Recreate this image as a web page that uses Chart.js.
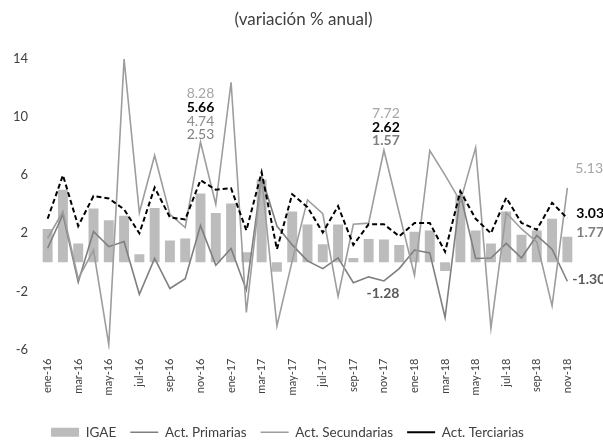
<!DOCTYPE html>
<html>
<head>
<meta charset="utf-8">
<script src="https://cdn.jsdelivr.net/npm/chart.js@4"></script>
<style>
  body { margin: 0; background: #fff; overflow: hidden; }
  canvas { display: block; }
</style>
</head>
<body>
<canvas id="grafico" width="603" height="444"></canvas>
<script>
// Meses (ene-16 a nov-18)
const meses = [
    'ene-16','feb-16','mar-16','abr-16','may-16','jun-16','jul-16','ago-16','sep-16','oct-16','nov-16','dic-16',
    'ene-17','feb-17','mar-17','abr-17','may-17','jun-17','jul-17','ago-17','sep-17','oct-17','nov-17','dic-17',
    'ene-18','feb-18','mar-18','abr-18','may-18','jun-18','jul-18','ago-18','sep-18','oct-18','nov-18'
];

// Variación % anual
const igae = [
    2.3, 5.0, 1.3, 3.7, 2.9, 3.2, 0.55, 3.75, 1.5, 1.65, 4.74, 3.4,
    4.05, 0.7, 5.7, -0.65, 3.5, 2.6, 1.25, 2.6, 0.3, 1.6, 1.57, 1.2,
    2.1, 2.2, -0.6, 4.6, 2.2, 1.3, 3.5, 1.9, 2.2, 3.0, 1.77
];
const primarias = [
    0.97, 3.3, -1.36, 2.13, 1.08, 1.43, -2.2, 0.27, -1.8, -1.13, 2.53, -0.2,
    0.95, -1.9, 5.9, 2.5, 1.2, 0.1, -0.43, 0.31, -1.4, -1.0, -1.28, -0.43,
    0.85, 0.65, -3.8, 4.7, 0.27, 0.3, 1.3, 0.3, 1.85, 0.9, -1.30
];
const secundarias = [
    1.66, 3.5, -1.13, 0.85, -5.67, 14.0, 3.41, 7.36, 3.3, 2.4, 8.28, 4.0,
    12.4, -3.45, 5.85, -4.38, 0.1, 4.3, 3.35, -2.35, 2.62, 2.7, 7.72, 3.4,
    -0.9, 7.7, 6.0, 4.2, 7.9, -4.55, 3.41, 2.3, 1.4, -3.0, 5.13
];
const terciarias = [
    3.0, 6.0, 2.5, 4.57, 4.4, 3.65, 2.0, 5.15, 3.1, 2.95, 5.66, 5.0,
    5.1, 2.2, 6.2, 0.9, 4.69, 3.8, 2.05, 3.87, 1.2, 2.62, 2.62, 1.8,
    2.71, 2.71, 0.73, 4.9, 3.0, 2.0, 4.45, 2.71, 2.25, 4.1, 3.03
];
const ticksY = [-6, -2, 2, 6, 10, 14];
const titulo = '(variación % anual)';

// Etiquetas de datos: serie, mes, desplazamiento y estilo
const etiquetas = [
    { serie: 2, mes: 10, ancla: 2, dx: 0, dy: -49, color: '#a6a6a6', negrita: false, alinear: 'center' },
    { serie: 3, mes: 10, ancla: 2, dx: 0, dy: -35, color: '#000000', negrita: true, alinear: 'center' },
    { serie: 0, mes: 10, ancla: 2, dx: 0, dy: -21, color: '#8c8c8c', negrita: false, alinear: 'center' },
    { serie: 1, mes: 10, ancla: 2, dx: 0, dy: -8, color: '#7f7f7f', negrita: false, alinear: 'center' },
    { serie: 2, mes: 22, ancla: 2, dx: 2, dy: -37, color: '#a6a6a6', negrita: false, alinear: 'center' },
    { serie: 3, mes: 22, ancla: 2, dx: 2, dy: -23, color: '#000000', negrita: true, alinear: 'center' },
    { serie: 0, mes: 22, ancla: 2, dx: 2, dy: -10, color: '#7f7f7f', negrita: true, alinear: 'center' },
    { serie: 1, mes: 22, ancla: 1, dx: -1, dy: 13, color: '#595959', negrita: true, alinear: 'center' },
    { serie: 2, mes: 34, ancla: 2, dx: 8, dy: -19, color: '#a6a6a6', negrita: false, alinear: 'left' },
    { serie: 3, mes: 34, ancla: 3, dx: 9, dy: -5, color: '#000000', negrita: true, alinear: 'left' },
    { serie: 0, mes: 34, ancla: 0, dx: 9, dy: -4, color: '#7f7f7f', negrita: true, alinear: 'left' },
    { serie: 1, mes: 34, ancla: 1, dx: 5, dy: -2, color: '#595959', negrita: true, alinear: 'left' }
];

const pluginEtiquetas = {
    id: 'etiquetas',
    afterDatasetsDraw(chart) {
        const ctx = chart.ctx;
        const x = chart.scales.x;
        const y = chart.scales.y;
        ctx.save();
        ctx.textBaseline = 'middle';
        etiquetas.forEach(e => {
            const valor = chart.data.datasets[e.serie].data[e.mes];
            const valorAncla = chart.data.datasets[e.ancla].data[e.mes];
            ctx.font = (e.negrita ? 'bold ' : '') + '14px Lato';
            ctx.fillStyle = e.color;
            ctx.textAlign = e.alinear;
            ctx.fillText(valor.toFixed(2), x.getPixelForValue(e.mes) + e.dx, y.getPixelForValue(valorAncla) + e.dy);
        });
        // titulo centrado en el lienzo
        ctx.font = '17px Lato';
        ctx.fillStyle = '#404040';
        ctx.textAlign = 'center';
        ctx.fillText(titulo, chart.width / 2 + 2, 20);
        ctx.restore();
    }
};

const ctx = document.getElementById('grafico').getContext('2d');
new Chart(ctx, {
    type: 'bar',
    data: {
        labels: meses,
        datasets: [
            {
                label: 'IGAE',
                data: igae,
                backgroundColor: '#bcbcbc',
                borderWidth: 0,
                categoryPercentage: 0.65,
                barPercentage: 1,
                pointStyle: 'rect',
                order: 4
            },
            {
                type: 'line',
                label: 'Act. Primarias',
                data: primarias,
                borderColor: '#7f7f7f',
                backgroundColor: '#7f7f7f',
                borderWidth: 1.6,
                pointRadius: 0,
                pointStyle: 'line',
                tension: 0,
                order: 3
            },
            {
                type: 'line',
                label: 'Act. Secundarias',
                data: secundarias,
                borderColor: '#9d9d9d',
                backgroundColor: '#9d9d9d',
                borderWidth: 1.6,
                pointRadius: 0,
                pointStyle: 'line',
                tension: 0,
                order: 2
            },
            {
                type: 'line',
                label: 'Act. Terciarias',
                data: terciarias,
                borderColor: '#000000',
                backgroundColor: '#000000',
                borderWidth: 2,
                borderDash: [5, 3],
                pointRadius: 0,
                pointStyle: 'line',
                tension: 0,
                order: 1
            }
        ]
    },
    options: {
        responsive: false,
        animation: false,
        events: [],
        layout: { padding: { left: 0, right: 28, top: 59, bottom: -5 } },
        plugins: {
            title: { display: false },
            legend: {
                position: 'bottom',
                labels: {
                    color: '#404040',
                    font: { family: 'Lato', size: 13.5 },
                    usePointStyle: true,
                    pointStyleWidth: 28,
                    boxHeight: 9,
                    padding: 14,
                    sort: (a, b) => a.datasetIndex - b.datasetIndex
                }
            },
            tooltip: { enabled: false }
        },
        scales: {
            x: {
                grid: { display: false, drawTicks: false },
                border: { display: false },
                ticks: {
                    autoSkip: false,
                    minRotation: 90,
                    maxRotation: 90,
                    padding: 9,
                    color: '#404040',
                    font: { family: 'Lato', size: 11 },
                    callback: (v, i) => (i % 2 === 0 ? meses[i] : '')
                },
                afterFit: s => { s.height = 62; }
            },
            y: {
                min: ticksY[0],
                max: ticksY[ticksY.length - 1],
                afterBuildTicks: s => { s.ticks = ticksY.map(v => ({ value: v })); },
                grid: {
                    drawTicks: false,
                    color: c => (c.tick && c.tick.value === 0 ? '#d9d9d9' : 'rgba(0,0,0,0)'),
                    lineWidth: 2
                },
                border: { display: false },
                ticks: {
                    padding: 12,
                    color: '#404040',
                    font: { family: 'Lato', size: 13 }
                },
                afterFit: s => { s.width = 40; }
            }
        }
    },
    plugins: [pluginEtiquetas]
});
</script>
</body>
</html>
